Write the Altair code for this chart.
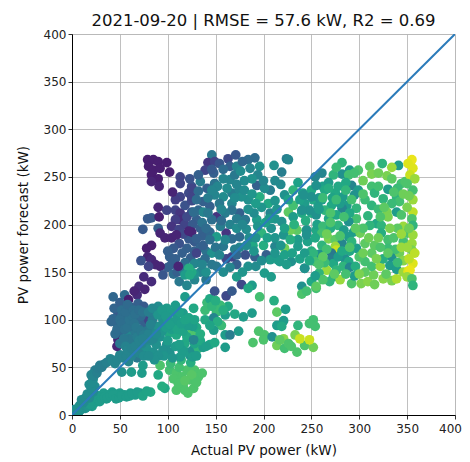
import altair as alt
import pandas as pd

# Each entry: actual kW, forecast kW, colour value (0-1)
low_trail = [(0,1,.45),(5,2,.5),(5,4,.5),(8,10,.5),(12,14,.5),(14,7,.5),(19,14,.55),(21,9,.55),(26,17,.55),(33,23,.55),(36,17,.55),(42,24,.55),(47,19,.55),(50,23,.55),(61,23,.55),(71,23,.55),(82,24,.6),(10,6,.5),(16,11,.5),(24,13,.55),(29,19,.55),(38,21,.55),(45,22,.55),(55,21,.55),(66,21,.55),
 (2,3,.48),(3,6,.48),(6,7,.5),(7,3,.5),(9,8,.5),(11,9,.5),(13,11,.5),(15,13,.52),(17,9,.52),(19,11,.55),(21,15,.55),(23,19,.55),(25,21,.55),(27,16,.55),(29,14,.55),(31,17,.55),(34,19,.55),(37,18,.55),(40,20,.55),(43,21,.55),(46,17,.55),(49,18,.55),(52,20,.55),(57,19,.55),(60,20,.55),(63,22,.55),(68,24,.55),(74,20,.58),(78,25,.58)]
rising_trail = [(12,13,.48),(18,18,.48),(22,24,.48),(22,37,.5),(24,30,.48),(24,47,.42),(29,52,.42),(33,53,.42),(40,59,.45),(45,54,.45),(50,63,.45),(59,56,.45),(68,60,.4),(52,45,.5),(62,45,.55),(73,44,.55),(74,52,.55),(90,42,.6),
 (10,16,.48),(14,18,.48),(16,22,.48),(20,28,.48),(18,32,.48),(21,34,.48),(20,42,.45),(23,41,.45),(26,44,.43),(28,49,.42),(31,50,.42),(36,55,.43),(42,57,.45),(47,58,.45),(53,60,.45),(57,62,.45),(62,62,.45),(66,66,.45),(71,68,.48),(75,72,.48)]
low_cluster = [(92,52,.72),(102,47,.7),(109,44,.72),(120,47,.72),(128,47,.72),(132,40,.72),(123,37,.72),(115,40,.72),(106,38,.72),(116,31,.72),(127,28,.72),(121,23,.72),(109,26,.72),(118,26,.72),(97,28,.6),(111,33,.72),(94,30,.62),(103,54,.68),(112,50,.7),(125,42,.74),(118,36,.74),(130,34,.72),(136,44,.72),(114,58,.66),(124,55,.62)]
middle_band = [(78,70,.5),(85,66,.5),(102,66,.5),(113,61,.55),(123,63,.5),(120,66,.55),(126,68,.5),(126,61,.55),(132,70,.65),(118,75,.6),(127,79,.55),(109,84,.6),(101,86,.6),(92,82,.5),(99,74,.5),(88,74,.5),(125,86,.72),(137,71,.55),(144,74,.58),(149,76,.6),(160,71,.55),(95,68,.5),(108,72,.55),(70,65,.45),(75,62,.48),(82,78,.48),(96,62,.52),(105,60,.52),(115,68,.55),(130,62,.55),
 (112,74,.56),(120,82,.6),(128,75,.58),(134,78,.6),(140,72,.56),(104,90,.56),(106,92,.56),(110,90,.58),(130,92,.6),(134,85,.62),(90,62,.5),(86,58,.5),(80,62,.48),(100,78,.55),(94,88,.52),(116,88,.58)]
teal_clump = [(43,124,.33),(55,126,.35),(68,126,.12),(59,121,.08),(54,112,.1),(69,117,.3),(75,114,.28),(48,107,.28),(43,101,.33),(47,96,.33),(41,98,.33),(61,107,.35),(68,100,.33),(76,96,.3),(80,100,.2),(54,93,.35),(50,88,.33),(59,86,.45),(66,88,.4),(48,79,.1),(47,72,.1),(64,75,.4),(73,75,.45),(78,80,.45),(85,89,.45),(90,93,.5),(95,100,.5),(88,107,.5),(99,112,.55),(106,108,.55),(116,107,.55),(118,124,.55),(127,112,.6),(109,100,.55),(121,94,.55),(52,104,.34),(56,98,.36),(62,94,.36),(70,90,.36),(72,104,.34),(62,113,.3),(44,112,.32),(50,118,.3),(60,80,.4),(68,82,.42),(78,88,.4),(84,100,.42),(90,114,.48),(100,100,.55),(108,115,.55),(114,96,.56),(98,92,.55),
 (45,85,.35),(47,90,.35),(50,100,.36),(52,96,.36),(55,90,.37),(58,92,.38),(60,100,.38),(63,104,.38),(65,96,.38),(67,92,.4),(72,88,.4),(75,84,.42),(80,85,.44),(82,95,.44),(85,80,.47),(88,85,.48),(50,75,.4),(54,80,.4),(56,72,.44),(58,68,.45),(62,70,.44),(66,72,.44),(70,78,.44),(74,80,.44),(52,110,.36),(56,108,.36),(58,116,.34),(64,110,.36),(66,106,.37),(70,110,.36),(74,108,.38),(80,108,.42),(84,112,.47),(90,105,.52),(94,110,.54),(98,104,.54),(102,95,.56),(112,108,.57),(118,100,.58),(122,102,.58),(128,100,.58)]
purple_top = [(79,268,.08),(85,268,.08),(90,266,.08),(99,265,.08),(80,261,.08),(85,257,.08),(92,259,.08),(102,255,.08),(83,252,.08),(90,248,.08),(83,245,.1),(91,240,.1),(105,234,.1),(90,218,.1),(91,208,.08),(92,191,.1),(97,186,.1),(104,186,.1),(109,189,.1),(122,193,.1)]
purple_low = [(83,178,.08),(78,175,.08),(79,166,.1),(83,163,.12),(72,162,.25),(87,158,.1),(92,156,.1),(80,156,.2),(75,145,.12),(95,147,.27),(102,166,.3),(108,164,.3),(104,158,.3),(111,156,.1),(122,154,.62),(118,147,.55),(123,147,.6),(70,135,.12),(76,132,.1),(83,140,.12),(65,130,.1)]
upper_left = [(113,250,.2),(113,243,.2),(123,248,.25),(125,240,.25),(122,233,.22),(113,229,.2),(108,226,.18),(99,215,.2),(108,215,.2),(113,212,.15),(114,205,.13),(108,205,.18),(79,206,.28),(83,207,.28),(74,195,.28),(90,196,.3),(104,198,.15),(125,213,.25),(118,220,.25),(125,225,.22),(118,200,.2),(112,195,.2),(130,205,.3),(120,175,.3),(128,182,.28),(115,170,.3),(112,180,.25),(124,165,.3),(118,160,.35),(100,155,.3),(106,148,.35),(112,140,.4),(120,136,.45),(128,142,.45),(134,150,.45),(140,142,.4),
 (128,172,.3),(122,185,.28),(134,176,.32),(136,188,.3),(126,200,.28),(132,215,.33),(120,208,.22),(116,190,.22),(106,175,.28),(100,172,.3),(110,150,.3),(116,152,.4),(128,148,.5),(134,160,.42),(140,172,.38)]
centre = [(146,273,.4),(142,265,.15),(149,266,.2),(154,264,.27),(163,269,.22),(171,273,.27),(191,270,.35),(184,268,.35),(165,261,.3),(172,261,.45),(139,257,.2),(148,254,.3),(186,259,.45),(196,261,.5),(194,252,.45),(211,262,.5),(219,255,.42),(224,269,.42),(226,268,.45),(165,247,.45),(158,248,.45),(149,243,.38),(141,238,.3),(134,245,.42),(125,238,.2),(125,229,.2),(137,224,.3),(158,229,.48),(167,233,.42),(175,236,.45),(193,241,.3),(188,248,.5),(207,236,.42),(201,238,.48),(196,229,.62),(205,222,.6),(184,226,.5),(177,229,.5),(167,222,.45),(149,231,.45),(154,222,.4),(144,219,.3),(137,213,.45),(151,208,.15),(175,212,.3),(167,215,.38),(127,213,.35),(181,205,.4),(193,205,.55),(207,212,.45),(219,203,.5),(226,213,.75),(231,220,.7),(222,231,.5),(231,236,.65),(241,233,.55),(250,236,.6),(243,222,.55),(252,226,.6),(257,219,.55),(240,212,.6),(231,208,.55),(235,194,.75),(228,194,.78),(245,194,.65),(255,194,.6),(236,184,.55),(236,177,.55),(221,189,.52),(208,196,.5),(198,191,.65),(189,178,.6),(200,178,.62),(212,177,.45),(222,175,.78),(203,168,.3),(191,166,.3),(207,163,.55),(217,161,.55),(229,161,.5),(243,154,.55),(224,158,.55),(215,163,.55),(201,149,.55),(208,145,.55),(184,156,.5),(172,158,.3),(181,168,.25),(161,191,.15),(144,192,.33),(134,196,.3),(125,192,.1),(137,178,.3),(158,177,.4),(151,187,.55),(175,187,.35),(167,185,.35),(130,170,.2),(146,170,.5),(139,164,.35),(128,159,.45),(161,164,.22),(167,166,.2),(125,150,.6),(146,158,.4),(151,156,.4),(172,145,.55),(132,235,.35),(142,228,.42),(152,240,.45),(160,212,.42),(146,205,.36),(136,202,.38),(155,198,.42),(165,200,.44),(172,196,.48),(182,195,.48),(190,212,.48),(198,218,.52),(212,225,.52),(175,176,.45),(185,186,.48),(150,176,.38),(158,150,.48),(165,155,.45),(178,150,.52),(192,156,.48),(140,150,.5),(130,185,.3),
 (132,252,.3),(146,258,.28),(158,258,.35),(170,252,.4),(176,256,.48),(180,246,.48),(172,242,.45),(162,238,.48),(146,236,.45),(130,226,.35),(142,212,.4),(156,216,.45),(170,228,.48),(180,236,.48),(188,232,.52),(192,222,.55),(184,216,.5),(172,206,.42),(156,204,.35),(140,196,.35),(144,184,.36),(160,184,.45),(178,200,.46),(194,198,.52),(202,202,.57),(212,206,.52),(204,186,.57),(192,186,.5),(182,178,.48),(170,174,.43),(154,168,.45),(136,158,.45),(172,168,.33),(190,172,.52),(198,162,.48),(212,170,.52),(222,168,.57),(230,170,.57),(238,164,.57),(212,186,.52),(218,178,.52),(228,184,.62),(244,204,.62),(250,212,.6),(238,226,.57),(226,226,.57),(214,216,.52),(206,206,.54),(232,200,.64),(222,196,.57),(246,182,.57),(250,172,.62),(256,200,.57),(258,228,.52),(262,240,.57),(236,244,.57),(218,242,.47),(212,246,.47),(200,246,.45),(178,266,.33)]
right_block = [(282,265,.65),(341,262,.55),(324,264,.65),(311,261,.75),(334,260,.85),(290,257,.55),(299,257,.72),(282,253,.5),(273,252,.65),(289,252,.7),(295,254,.7),(313,253,.8),(320,254,.78),(329,251,.8),(261,254,.45),(254,250,.45),(255,241,.5),(292,241,.45),(299,236,.55),(295,231,.5),(313,240,.7),(330,237,.55),(316,233,.65),(325,227,.65),(313,220,.65),(264,236,.6),(250,229,.5),(242,231,.5),(275,233,.6),(283,229,.55),(261,226,.55),(271,220,.6),(287,220,.55),(282,217,.45),(297,217,.65),(297,206,.7),(264,215,.65),(255,210,.5),(248,215,.5),(240,215,.5),(276,210,.6),(289,203,.5),(278,199,.65),(309,209,.65),(318,201,.6),(323,199,.65),(311,199,.65),(329,213,.8),(330,208,.8),(339,213,.55),(344,243,.7),(348,245,.72),(339,229,.65),(342,224,.7),(323,191,.62),(346,198,.85),(294,192,.55),(301,191,.78),(262,198,.68),(245,194,.5),(245,189,.5),(261,191,.7),(289,187,.55),(268,185,.8),(275,184,.75),(282,180,.45),(297,175,.55),(290,172,.6),(275,177,.85),(276,173,.92),(271,170,.4),(271,164,.42),(259,169,.5),(261,178,.65),(252,170,.65),(243,170,.55),(254,161,.7),(285,164,.5),(289,161,.6),(283,156,.65),(290,155,.45),(273,159,.6),(266,152,.85),(258,149,.65),(243,154,.5),(273,145,.62),(280,142,.85),(269,140,.65),(292,138,.72),(295,146,.55),(302,138,.8),(309,140,.82),(316,137,.78),(315,147,.78),(313,156,.7),(306,161,.7),(322,156,.85),(325,143,.82),(334,141,.8),(339,143,.88),(332,157,.55),(339,153,.55),(334,166,.5),(325,164,.62),(316,178,.75),(313,170,.75),(330,184,.7),(330,175,.68),(346,182,.7),(350,191,.72),(250,140,.6),(255,133,.7),
 (268,244,.55),(278,240,.6),(286,244,.6),(258,216,.55),(268,206,.6),(272,228,.58),(280,222,.55),(290,212,.6),(284,194,.55),(270,196,.62),(254,186,.6),(266,174,.7),(278,166,.55),(264,160,.68),(248,162,.6),(282,172,.6),(292,182,.65),(300,166,.72),(296,156,.62),(276,152,.65),(286,148,.7),(262,142,.72),(306,180,.75),(304,196,.72),(306,226,.68),(320,216,.68),(334,222,.68),(344,210,.72),(340,196,.75),(336,186,.72),(342,170,.78),(346,162,.82),(338,174,.7),(322,176,.72),(320,240,.7),(334,248,.75),(340,238,.68),(322,208,.72),(306,150,.75),(328,148,.75),(346,150,.85),(340,160,.68)]
right_light = [(262,228,.68),(268,238,.62),(276,226,.68),(286,236,.66),(292,226,.7),(304,232,.72),(270,212,.72),(284,208,.7),(296,196,.75),(266,190,.78),(280,188,.72),(290,176,.72),(304,170,.78),(262,166,.75),(274,148,.75),(258,158,.72),(310,186,.78),(320,186,.78),(332,196,.8),(326,218,.75),(336,234,.72),(304,246,.78),(276,260,.68),(270,202,.72),(300,148,.8),(318,164,.8),(330,170,.75),(344,190,.85),(344,176,.85),(346,232,.78)]
right_edge = [(355,268,.97),(351,264,.95),(356,259,.95),(353,252,.92),(358,248,.85),(350,243,.72),(356,236,.7),(356,226,.85),(356,213,.9),(355,206,.72),(356,199,.65),(356,189,.85),(355,180,.85),(355,173,.8),(358,170,.9),(356,159,.95),(351,151,.95),(353,152,.97),(350,145,.85),(355,143,.72),(356,136,.65),(352,230,.78),(350,218,.8),(352,196,.78),(350,176,.85),(352,164,.9)]
lower_scatter = [(196,124,.7),(211,120,.62),(240,135,.5),(240,127,.72),(245,130,.7),(255,135,.75),(254,146,.55),(214,108,.75),(223,111,.55),(188,107,.55),(179,103,.55),(170,106,.6),(160,105,.55),(163,114,.6),(155,115,.68),(151,108,.68),(139,110,.68),(141,118,.68),(144,122,.6),(149,130,.25),(161,125,.22),(167,130,.28),(177,137,.22),(188,136,.55),(184,133,.6),(139,100,.6),(148,102,.45),(156,94,.68),(148,89,.55),(174,88,.55),(160,84,.55),(165,84,.42),(126,93,.55),(127,79,.45),(195,88,.72),(201,84,.72),(189,76,.72),(200,79,.72),(209,82,.5),(214,94,.55),(221,99,.55),(219,93,.6),(236,94,.65),(252,100,.7),(248,96,.7),(254,93,.7),(221,80,.82),(233,84,.8),(214,73,.78),(222,70,.7),(226,75,.72),(235,66,.72),(243,73,.72),(252,71,.78),(217,79,.75),(229,72,.72),(238,80,.92),(248,79,.92),
 (146,114,.66),(150,120,.62),(158,110,.62),(152,98,.62),(144,94,.58)]

groups = [low_trail, rising_trail, low_cluster, middle_band, upper_left, centre, right_block, right_light, right_edge, lower_scatter, teal_clump, purple_top, purple_low]
rows = [p for g in groups for p in g]
df = pd.DataFrame(rows, columns=["actual", "forecast", "shade"])

ticks = [0, 50, 100, 150, 200, 250, 300, 350, 400]
line_ends = [0, 400]

def axis(title, **kw):
    return alt.Axis(title=title, values=ticks, format="d", grid=True, gridColor="#b0b0b0", gridWidth=0.8,
                    domainColor="black", tickColor="black", tickSize=4, tickWidth=0.8,
                    labelColor="#222222", labelFont="DejaVu Sans", labelFontSize=12,
                    titleFont="DejaVu Sans", titleFontSize=13.5, titleFontWeight="normal", titleColor="#111111", labelFlush=False, **kw)

x = alt.X("actual:Q", scale=alt.Scale(domain=[0, 400], nice=False),
          axis=axis("Actual PV power (kW)", titlePadding=9, labelPadding=4, labelOffset=alt.expr("datum.value == 400 ? -5 : 0")))
y = alt.Y("forecast:Q", scale=alt.Scale(domain=[0, 400], nice=False), axis=axis("PV power forecast (kW)", titlePadding=13))

points = alt.Chart(df).mark_circle(size=95, opacity=1, clip=True).encode(
    x=x, y=y,
    color=alt.Color("shade:Q", scale=alt.Scale(scheme="viridis", domain=[0, 1]), legend=None),
)
line = alt.Chart(pd.DataFrame({"actual": line_ends, "forecast": line_ends})).mark_line(color="#2b7bba", strokeWidth=2, clip=True).encode(x=x, y=y)

chart = (points + line).properties(
    width=383, height=381,
    title=alt.TitleParams("2021-09-20 | RMSE = 57.6 kW, R2 = 0.69", font="DejaVu Sans", fontSize=16.5, fontWeight="normal", color="#111111", anchor="middle", offset=-1),
    autosize=alt.AutoSizeParams(type="none"),
    padding={"left": 64, "top": 26, "right": 7, "bottom": 46},
).configure_view(stroke="black", strokeWidth=1).configure(background="white")

chart.save("out.html", embed_options={"renderer": "svg", "actions": False})
